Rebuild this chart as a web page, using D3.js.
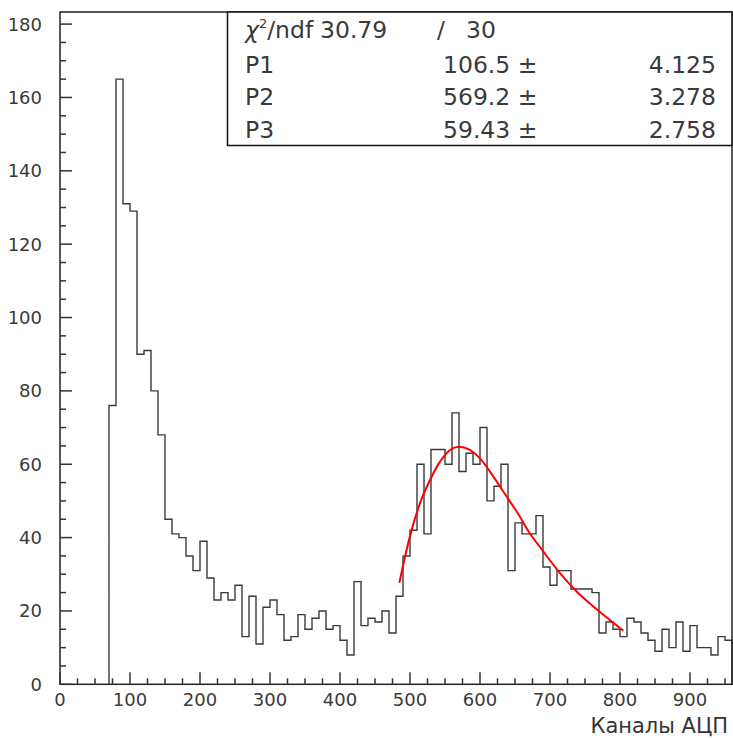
<!DOCTYPE html>
<html><head><meta charset="utf-8">
<script src="https://cdn.jsdelivr.net/npm/d3@7"></script>
<style>body{margin:0;background:#fff}svg{display:block}</style>
</head><body>
<svg id="c" width="733" height="738"></svg>
<script>
// Histogram: bins of width 10 starting at 70
const binStart = 70, binWidth = 10;
const counts = [76,165,131,129,90,91,80,68,45,41,40,35,31,39,29,23,25,23,27,13,
24,11,21,23,19,12,13,19,15,18,20,15,16,12,8,28,16,18,17,20,
14,24,35,42,60,41,64,64,60,74,58,63,60,70,50,54,60,31,44,41,
41,46,32,27,31,31,26,26,26,25,14,17,15,13,18,17,14,12,9,15,
10,17,9,16,10,10,8,13,12];
// Fit curve
const fitX = [484.8,492.9,502.4,514.3,528.6,542.9,557.1,569,585.7,600,614.3,628.6,642.9,657.1,666.7,690.5,714.3,738.1,761.9,785.7,804.8];
const fitY = [27.7,34.8,42.1,49.4,55.7,60.7,63.9,64.8,63.9,61.6,58,53.9,49.8,45.7,42.5,36.2,30.3,25.3,21.2,17.5,14.6];
const xTicks = [0,100,200,300,400,500,600,700,800,900];
const yTicks = [0,20,40,60,80,100,120,140,160,180];
const statsRows = [
  {label:"P1", val:"106.5 \u00b1", err:"4.125"},
  {label:"P2", val:"569.2 \u00b1", err:"3.278"},
  {label:"P3", val:"59.43 \u00b1", err:"2.758"}
];
const chiVal = "30.79", ndfVal = "30";
const xTitle = "Каналы АЦП";

const svg = d3.select("#c");
const font = "DejaVu Sans, sans-serif";
const x = d3.scaleLinear().domain([0,960]).range([60,732]);
const y = d3.scaleLinear().domain([0,183.3]).range([684.3,12]);

// histogram path
let pts = [[x(binStart), y(0)]];
counts.forEach((c,i)=>{
  const lo = binStart + i*binWidth, hi = lo + binWidth;
  pts.push([x(lo), y(c)]); pts.push([x(hi), y(c)]);
});
pts.push([x(binStart+counts.length*binWidth), y(0)]);
svg.append("path").attr("d", d3.line()(pts)).attr("fill","none")
  .attr("stroke","#3a3a3a").attr("stroke-width",1.4);

// fit
svg.append("path").attr("d", d3.line().x(d=>x(d[0])).y(d=>y(d[1])).curve(d3.curveMonotoneX)(fitX.map((v,i)=>[v,fitY[i]])))
  .attr("fill","none").attr("stroke","#ff0000").attr("stroke-width",2);

// frame
svg.append("rect").attr("x",x(0)).attr("y",y(183.3)).attr("width",x(960)-x(0)).attr("height",y(0)-y(183.3))
  .attr("fill","none").attr("stroke","#222").attr("stroke-width",1.5);

// y ticks
const yAx = svg.append("g");
d3.range(0,181,5).forEach(v=>{
  const major = v%20===0;
  yAx.append("line").attr("x1",x(0)).attr("x2",x(0)+(major?12:6)).attr("y1",y(v)).attr("y2",y(v))
    .attr("stroke","#333").attr("stroke-width",1.5);
});
yTicks.forEach(v=>{
  yAx.append("text").attr("x",42).attr("y",y(v)).attr("dy","0.36em").attr("text-anchor","end")
    .attr("font-family",font).attr("font-size",18).attr("fill","#3a3a3a").text(v);
});
// x ticks
const xAx = svg.append("g");
d3.range(0,961,25).forEach(v=>{
  const major = v%100===0;
  xAx.append("line").attr("x1",x(v)).attr("x2",x(v)).attr("y1",y(0)).attr("y2",y(0)-(major?12:6))
    .attr("stroke","#333").attr("stroke-width",1.5);
});
xTicks.forEach(v=>{
  xAx.append("text").attr("x",x(v)).attr("y",706).attr("text-anchor","middle")
    .attr("font-family",font).attr("font-size",18).attr("fill","#3a3a3a").text(v);
});
svg.append("text").attr("x",728).attr("y",733).attr("text-anchor","end")
  .attr("font-family",font).attr("font-size",21).attr("fill","#333").text(xTitle);

// stats box
svg.append("rect").attr("x",227.5).attr("y",12).attr("width",732-227.5).attr("height",133.5)
  .attr("fill","#fff").attr("stroke","#111").attr("stroke-width",1.5);
const st = svg.append("g").attr("font-family",font).attr("font-size",23.5).attr("fill","#3a3a3a");
const chi = st.append("text").attr("x",245).attr("y",38);
chi.append("tspan").attr("font-style","italic").text("\u03c7");
chi.append("tspan").attr("font-size",13).attr("dy",-10).text("2");
chi.append("tspan").attr("dy",10).text("/ndf");
st.append("text").attr("x",320).attr("y",38).text(chiVal);
st.append("text").attr("x",437).attr("y",38).text("/");
st.append("text").attr("x",496).attr("y",38).attr("text-anchor","end").text(ndfVal);
statsRows.forEach((r,i)=>{
  const by = 72.5 + i*32.5;
  st.append("text").attr("x",245).attr("y",by).text(r.label);
  st.append("text").attr("x",443).attr("y",by).text(r.val);
  st.append("text").attr("x",716).attr("y",by).attr("text-anchor","end").text(r.err);
});
</script>
</body></html>
